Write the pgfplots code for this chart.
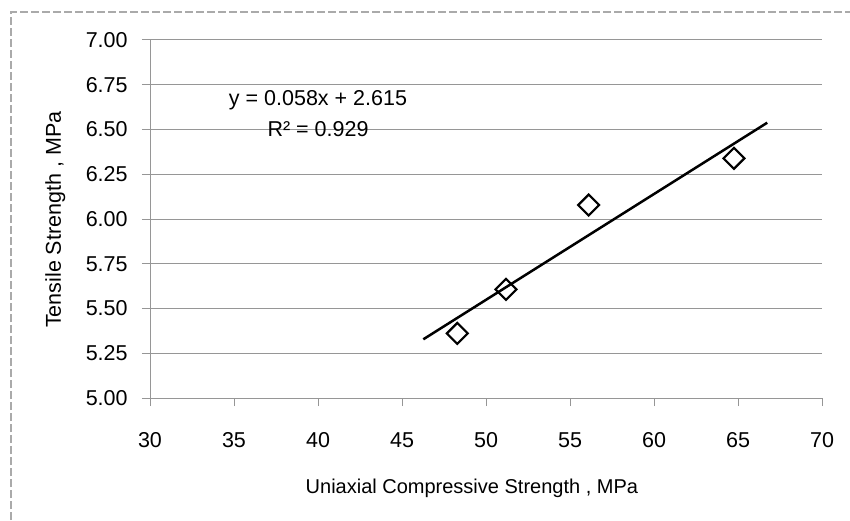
\documentclass[border=0pt]{standalone}
\usepackage{pgfplots}
\pgfplotsset{compat=1.18}
\usepackage{fontspec}
\setmainfont{Liberation Sans}
\definecolor{gridgray}{RGB}{150,150,150}
\definecolor{framegray}{RGB}{170,170,170}
\begin{document}
\fontsize{21.5pt}{26pt}\selectfont
\begin{tikzpicture}[x=1pt,y=1pt]
\useasboundingbox (0,0) rectangle (850,520);
\fill[white] (0,0) rectangle (850,520);
\draw[framegray, line width=1.5pt, dash pattern=on 8pt off 3pt] (11,0) -- (11,508) -- (850,508);
\begin{axis}[
  at={(150pt,122pt)}, anchor=south west,
  scale only axis, width=672pt, height=358pt,
  xmin=30, xmax=70, ymin=5, ymax=7,
  xtick={30,35,...,70},
  ytick={5,5.25,...,7.01},
  axis x line*=bottom, axis y line*=left,
  axis line style={gridgray, line width=1pt, -},
  ymajorgrids, major grid style={gridgray, line width=1pt},
  tick align=outside, major tick length=8pt,
  tick style={gridgray, line width=1pt},
  yticklabel style={/pgf/number format/.cd, fixed, fixed zerofill, precision=2},
  /pgf/number format/assume math mode=true,
  ticklabel style={font=\fontsize{21.5pt}{26pt}\selectfont},
  yticklabel shift=7pt,
  xticklabel shift=19pt,
  xlabel={Uniaxial Compressive Strength , MPa},
  ylabel={Tensile Strength , MPa},
  xlabel style={font=\fontsize{20pt}{24pt}\selectfont, at={(axis description cs:0.479,-0.251)}, anchor=center},
  ylabel style={font=\fontsize{21.5pt}{26pt}\selectfont, at={(axis description cs:-0.141,0.498)}, anchor=center},
  clip=false,
]
\addplot[black, line width=2.5pt] coordinates {(46.27,5.328) (66.74,6.538)};
\addplot[only marks, mark=square, mark size=7.4pt, mark options={rotate=45, draw=black, fill=white, line width=2.2pt}]
  coordinates {(48.29,5.361) (51.19,5.607) (56.11,6.078) (64.76,6.339)};
\node[anchor=center, font=\fontsize{21.5pt}{26pt}\selectfont] at (axis cs:40.0,6.665) {y = 0.058x + 2.615};
\node[anchor=center, font=\fontsize{21.5pt}{26pt}\selectfont] at (axis cs:40.0,6.50) {R² = 0.929};
\end{axis}
\end{tikzpicture}
\end{document}
